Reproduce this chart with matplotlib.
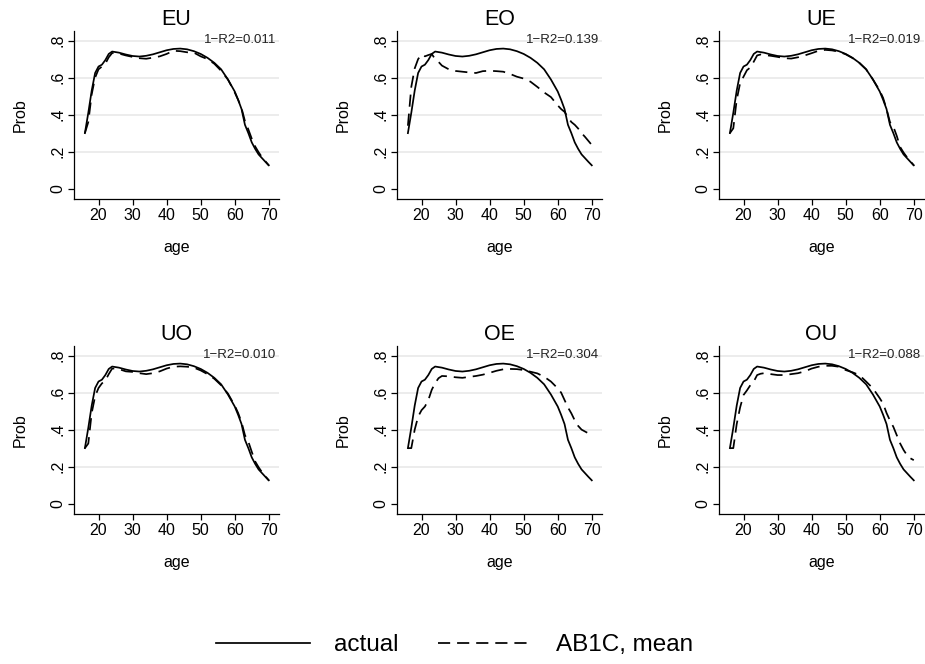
import matplotlib
matplotlib.use('Agg')
import matplotlib.pyplot as plt

plt.rcParams['font.family'] = ['Liberation Sans', 'DejaVu Sans']

# ---------------- data ----------------
ages = [16, 17, 18, 19, 20, 21, 22, 23, 24, 25, 26, 28, 30, 32, 34, 36, 38, 40, 42,
        44, 46, 48, 50, 52, 54, 56, 58, 60, 61, 62, 63, 64, 65, 66, 67, 68, 69, 70]

actual = [0.30, 0.41, 0.53, 0.625, 0.66, 0.67, 0.695, 0.728, 0.741, 0.738, 0.735,
          0.725, 0.717, 0.714, 0.718, 0.726, 0.737, 0.748, 0.755, 0.757, 0.753,
          0.743, 0.728, 0.707, 0.68, 0.645, 0.59, 0.525, 0.48, 0.43, 0.345, 0.30,
          0.25, 0.215, 0.185, 0.165, 0.145, 0.126]

ab1c_eu = [0.30, 0.36, 0.51, 0.60, 0.645, 0.66, 0.675, 0.71, 0.733, 0.733, 0.73,
           0.72, 0.712, 0.705, 0.702, 0.708, 0.715, 0.728, 0.745, 0.743, 0.737,
           0.735, 0.715, 0.70, 0.675, 0.637, 0.59, 0.52, 0.48, 0.435, 0.365, 0.32,
           0.27, 0.228, 0.197, 0.17, 0.148, 0.126]

ab1c_eo = [0.34, 0.55, 0.65, 0.70, 0.725, 0.715, 0.722, 0.728, 0.70, 0.685, 0.665,
           0.645, 0.636, 0.632, 0.628, 0.625, 0.635, 0.637, 0.635, 0.632, 0.62,
           0.605, 0.595, 0.578, 0.55, 0.52, 0.495, 0.45, 0.43, 0.415, 0.385, 0.36,
           0.345, 0.325, 0.30, 0.28, 0.258, 0.236]

ab1c_ue = [0.30, 0.326, 0.48, 0.57, 0.605, 0.64, 0.655, 0.686, 0.72, 0.725, 0.722,
           0.718, 0.712, 0.705, 0.703, 0.71, 0.72, 0.732, 0.745, 0.75, 0.747,
           0.74, 0.726, 0.706, 0.68, 0.645, 0.59, 0.53, 0.49, 0.43, 0.36, 0.335,
           0.285, 0.225, 0.195, 0.17, 0.148, 0.126]

ab1c_uo = [0.30, 0.325, 0.49, 0.58, 0.625, 0.65, 0.665, 0.70, 0.73, 0.73, 0.727,
           0.715, 0.712, 0.705, 0.70, 0.705, 0.715, 0.73, 0.74, 0.742, 0.74,
           0.735, 0.72, 0.70, 0.675, 0.64, 0.595, 0.53, 0.49, 0.44, 0.37, 0.335,
           0.28, 0.228, 0.197, 0.17, 0.148, 0.126]

ab1c_oe = [0.30, 0.30, 0.40, 0.47, 0.505, 0.525, 0.56, 0.615, 0.652, 0.678, 0.69,
           0.688, 0.683, 0.68, 0.685, 0.69, 0.697, 0.707, 0.718, 0.726, 0.728,
           0.727, 0.722, 0.713, 0.704, 0.686, 0.66, 0.623, 0.60, 0.56, 0.52, 0.488,
           0.45, 0.42, 0.40, 0.39, 0.38, 0.37]

ab1c_ou = [0.30, 0.30, 0.43, 0.52, 0.587, 0.612, 0.64, 0.66, 0.695, 0.702, 0.705,
           0.70, 0.695, 0.695, 0.70, 0.705, 0.715, 0.73, 0.74, 0.745, 0.745,
           0.74, 0.722, 0.71, 0.695, 0.66, 0.623, 0.57, 0.54, 0.49, 0.45, 0.415,
           0.37, 0.325, 0.29, 0.262, 0.245, 0.235]

panel_names = ['EU', 'EO', 'UE', 'UO', 'OE', 'OU']
r2_labels = ['0.011', '0.139', '0.019', '0.010', '0.304', '0.088']
ab1c_series = [ab1c_eu, ab1c_eo, ab1c_ue, ab1c_uo, ab1c_oe, ab1c_ou]

x_ticks = [20, 30, 40, 50, 60, 70]
y_ticks = [0, 0.2, 0.4, 0.6, 0.8]
y_tick_labels = ['0', '.2', '.4', '.6', '.8']
legend_labels = ['actual', 'AB1C, mean']

# ---------------- layout ----------------
W, H = 925, 664
fig = plt.figure(figsize=(W / 100, H / 100), dpi=100)
fig.patch.set_facecolor('white')

col_left = [74, 397, 719]
row_top = [31, 346]
ax_w, ax_h = 205, 168

LW = 1.25
DASH = (7, 4)
handles = None
for i, name in enumerate(panel_names):
    r, c = divmod(i, 3)
    ax = fig.add_axes([col_left[c] / W, 1 - (row_top[r] + ax_h) / H, ax_w / W, ax_h / H])
    ax.set_xlim(12.8, 73.0)
    ax.set_ylim(-0.056, 0.852)
    for g in y_ticks[1:]:
        ax.axhline(g, color='#e9e9e9', lw=1.2, zorder=0)
    l1, = ax.plot(ages, actual, color='black', lw=LW, solid_joinstyle='round', zorder=3)
    l2, = ax.plot(ages, ab1c_series[i], color='black', lw=LW, linestyle='--',
                  dashes=DASH, zorder=2)
    if handles is None:
        handles = [l1, l2]
    for s in ['top', 'right']:
        ax.spines[s].set_visible(False)
    for s in ['left', 'bottom']:
        ax.spines[s].set_linewidth(0.9)
    ax.set_xticks(x_ticks)
    ax.set_xticklabels([str(t) for t in x_ticks], fontsize=11.5)
    ax.set_yticks(y_ticks)
    ax.set_yticklabels(y_tick_labels, fontsize=11.5, rotation=90, va='center')
    ax.tick_params(axis='both', direction='out', length=4.3, width=0.9, color='black')
    ax.tick_params(axis='x', pad=2.5)
    ax.tick_params(axis='y', pad=2)
    ax.set_xlabel('age', fontsize=11.5, labelpad=12)
    ax.set_ylabel('Prob', fontsize=11.5, labelpad=16)
    ax.set_title(name, fontsize=15.5, pad=4)
    ax.text(0.985, 0.805, '1\u2212R2=' + r2_labels[i], transform=ax.get_yaxis_transform(),
            ha='right', va='center', fontsize=9.5, color='#222222')

fig.legend(handles, legend_labels, loc='center', bbox_to_anchor=(0.4914, 1 - 645 / H),
           ncol=2, frameon=False, fontsize=17.5, handlelength=3.85, handletextpad=1.0,
           columnspacing=1.6)

fig.savefig('out.png', dpi=100, facecolor='white')
